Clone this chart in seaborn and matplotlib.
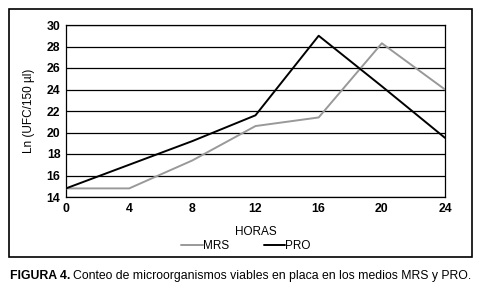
import matplotlib
matplotlib.use('Agg')
import matplotlib.pyplot as plt
import pandas as pd
import seaborn as sns
from matplotlib.patches import Rectangle
from matplotlib.lines import Line2D

horas = [0, 4, 8, 12, 16, 20, 24]
mrs = [14.8, 14.8, 17.4, 20.6, 21.4, 28.3, 24.0]
pro = [14.8, 17.0, 19.2, 21.6, 29.0, 24.3, 19.5]
y_ticks = [14, 16, 18, 20, 22, 24, 26, 28, 30]
x_ticks = [0, 4, 8, 12, 16, 20, 24]

df = pd.DataFrame({'HORAS': horas * 2,
                   'valor': mrs + pro,
                   'medio': ['MRS'] * len(horas) + ['PRO'] * len(horas)})

sns.set_style('white')
plt.rcParams['font.family'] = ['Liberation Sans', 'DejaVu Sans']
plt.rcParams['text.color'] = 'black'
plt.rcParams['axes.labelcolor'] = 'black'
plt.rcParams['xtick.color'] = 'black'
plt.rcParams['ytick.color'] = 'black'

fig = plt.figure(figsize=(4.82, 2.93), dpi=100)
ax = fig.add_axes([66 / 482, 1 - 197 / 293, (445 - 66) / 482, (197 - 25) / 293])

sns.lineplot(data=df, x='HORAS', y='valor', hue='medio', palette={'MRS': '#999999', 'PRO': 'black'},
             linewidth=1.4, ax=ax, legend=False, zorder=3)

ax.set_xlim(0, 24)
ax.set_ylim(14, 30)
ax.set_xticks(x_ticks)
ax.set_yticks(y_ticks)
ax.yaxis.grid(True, color='black', linewidth=0.9)
ax.set_axisbelow(True)
for s in ax.spines.values():
    s.set_color('black')
    s.set_linewidth(0.9)
ax.tick_params(length=0, labelsize=8.8, pad=4)
for lab in ax.get_xticklabels() + ax.get_yticklabels():
    lab.set_fontweight('bold')
ax.set_xlabel('HORAS', fontsize=8.5, labelpad=8)
ax.set_ylabel('Ln (UFC/150 µl)', fontsize=8.5, labelpad=8)

# legend below
handles = [Line2D([], [], color='#999999', lw=1.4), Line2D([], [], color='black', lw=1.4)]
fig.legend(handles, ['MRS', 'PRO'], loc='center', bbox_to_anchor=(246 / 482, 1 - 246 / 293), ncol=2,
           frameon=False, fontsize=8.5, handlelength=1.8, handletextpad=0.0, columnspacing=3.0)

# outer frame
fig.patches.append(Rectangle((9 / 482, 1 - 257 / 293), (472 - 9) / 482, (257 - 9) / 293,
                             transform=fig.transFigure, fill=False, edgecolor='black', linewidth=1.2))

# caption: bold part, then the rest right after it
t1 = fig.text(10 / 482, 1 - 276 / 293, 'FIGURA 4.', fontsize=8.8, fontweight='bold', va='center', ha='left')
fig.canvas.draw()
bb = t1.get_window_extent()
fig.text((bb.x1 + 3) / 482, 1 - 276 / 293,
         'Conteo de microorganismos viables en placa en los medios MRS y PRO.',
         fontsize=8.8, va='center', ha='left')

fig.savefig('out.png', dpi=100)
